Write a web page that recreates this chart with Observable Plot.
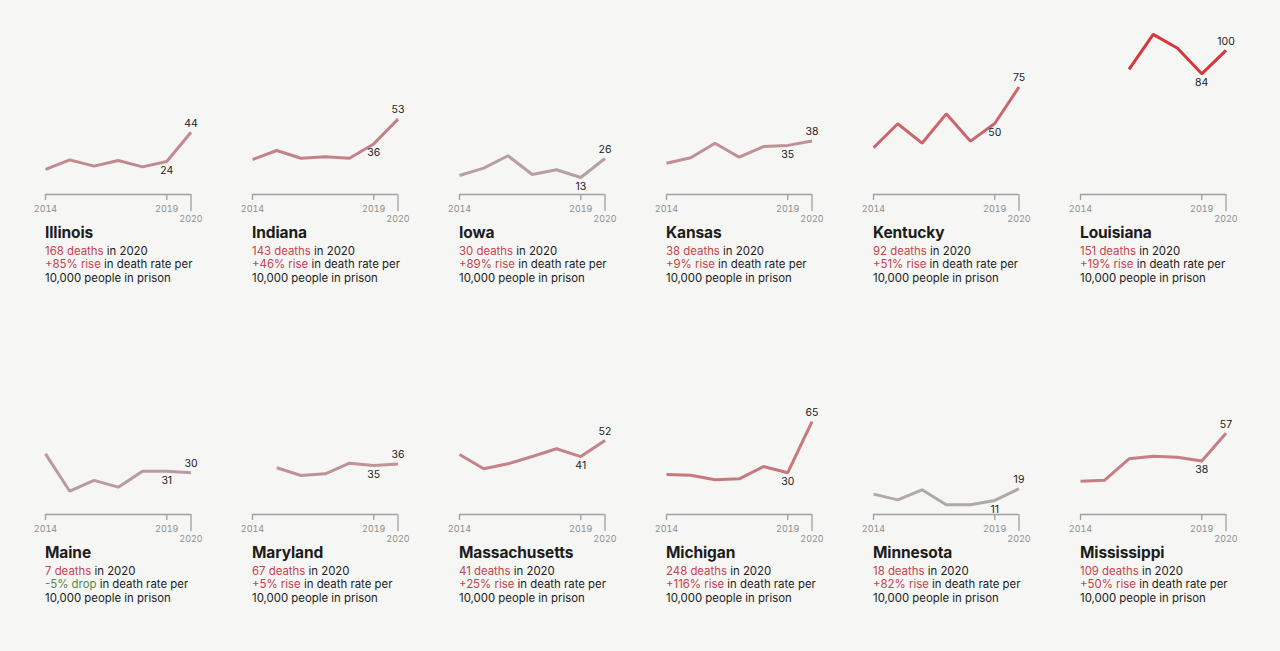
<!DOCTYPE html>
<html><head><meta charset="utf-8">
<script src="https://cdn.jsdelivr.net/npm/d3@7"></script>
<script src="https://cdn.jsdelivr.net/npm/@observablehq/plot@0.6"></script>
<style>
html,body{margin:0;padding:0;background:#f6f6f4;}
#wrap{position:relative;width:1280px;height:651px;overflow:hidden;font-family:Inter,"Noto Sans",sans-serif;}
.panel{position:absolute;width:207px;}
.panel svg{display:block;overflow:visible;}
.txt{position:absolute;left:15px;top:224px;width:192px;color:#1c1c1c;white-space:nowrap;}
.name{font-weight:700;font-size:15.5px;line-height:18px;letter-spacing:-0.1px;}
.ln{font-size:11.4px;line-height:13.7px;}
.ln.first{margin-top:2.5px;}
.red{color:#c4434c;}
.green{color:#4f8a52;}
</style>
</head><body>
<div id="wrap"></div>
<script>
const years = [2014, 2015, 2016, 2017, 2018, 2019, 2020];
const states = ["Illinois","Indiana","Iowa","Kansas","Kentucky","Louisiana","Maine","Maryland","Massachusetts","Michigan","Minnesota","Mississippi"];
const deaths2020 = [168, 143, 30, 38, 92, 151, 7, 67, 41, 248, 18, 109];
const changePct = [85, 46, 89, 9, 51, 19, -5, 5, 25, 116, 82, 50];

// Death rate per 10,000 people in prison, 2014–2020
const rateIllinois      = [18.5, 25.1, 20.8, 24.7, 20.3, 24, 44];
const rateIndiana       = [25.3, 31.5, 26.2, 27.2, 26.2, 36, 53];
const rateIowa          = [14.4, 19.4, 27.9, 15.1, 18.3, 13, 26];
const rateKansas        = [22.8, 26.5, 36.5, 26.9, 34.2, 35, 38];
const rateKentucky      = [33.4, 49.8, 36.5, 56.6, 37.9, 50, 75];
const rateLouisiana     = [null, null, 87, 111, 101.5, 84, 100];
const rateMaine         = [42.9, 17.3, 24.7, 20.1, 31, 31, 30];
const rateMaryland      = [null, 33.4, 28.1, 29.2, 36.5, 35, 36];
const rateMassachusetts = [42.5, 32.7, 36.1, 41.1, 46.4, 41, 52];
const rateMichigan      = [28.8, 28.3, 25.1, 25.8, 34.2, 30, 65];
const rateMinnesota     = [15.3, 11.4, 18.3, 8, 8, 11, 19];
const rateMississippi   = [24.2, 24.9, 39.5, 41.3, 40.6, 38, 57];

const series = [rateIllinois, rateIndiana, rateIowa, rateKansas, rateKentucky, rateLouisiana,
  rateMaine, rateMaryland, rateMassachusetts, rateMichigan, rateMinnesota, rateMississippi];

const wrap = document.getElementById("wrap");
const yMin = 1.37, yMax = 134.2;

states.forEach((name, i) => {
  const vals = series[i];
  const last = vals[vals.length - 1];
  const data = years.map((year, j) => ({year, rate: vals[j], last})).filter(d => d.rate != null);
  const col = i % 6, row = Math.floor(i / 6);

  const chart = Plot.plot({
    width: 207, height: 228,
    marginLeft: 15, marginRight: 46.5, marginTop: 0, marginBottom: 34,
    x: {domain: [2014, 2020], axis: null},
    y: {domain: [yMin, yMax], axis: null},
    color: {type: "linear", domain: [19, 44, 65, 100], range: ["#b0a9a9", "#c28a8f", "#c7787e", "#d7363a"]},
    style: {background: "transparent", fontFamily: "Inter, 'Noto Sans', sans-serif", overflow: "visible"},
    marks: [
      Plot.ruleY([yMin], {x1: 2014, x2: 2020, stroke: "#a0a0a0", strokeWidth: 1.3}),
      Plot.axisX({ticks: [2014, 2019], tickSize: 6, tickPadding: 5, tickFormat: d => String(d),
        stroke: "#a0a0a0", strokeWidth: 1.3, fill: "#8e8e8e", fontSize: 9, label: null}),
      Plot.axisX({ticks: [2020], tickSize: 17, tickPadding: 4, tickFormat: d => String(d),
        stroke: "#a0a0a0", strokeWidth: 1.3, fill: "#8e8e8e", fontSize: 9, label: null}),
      Plot.line(data, {x: "year", y: "rate", stroke: "last", strokeWidth: 3, strokeLinejoin: "miter", strokeLinecap: "butt"}),
      Plot.text(data.filter(d => d.year === 2020), {x: "year", y: "rate", text: d => String(Math.round(d.rate)),
        dy: -9, fill: "#1c1c1c", fontSize: 10.5}),
      Plot.text(data.filter(d => d.year === 2019), {x: "year", y: "rate", text: d => String(Math.round(d.rate)),
        dy: 9, fill: "#1c1c1c", fontSize: 10.5})
    ]
  });

  const panel = document.createElement("div");
  panel.className = "panel";
  panel.style.left = (30 + col * 207) + "px";
  panel.style.top = (row * 320) + "px";
  panel.appendChild(chart);

  const pct = changePct[i];
  const pctText = pct >= 0 ? `+${pct}% rise` : `-${Math.abs(pct)}% drop`;
  const pctClass = pct >= 0 ? "red" : "green";
  const txt = document.createElement("div");
  txt.className = "txt";
  txt.innerHTML = `<div class="name">${name}</div>
    <div class="ln first"><span class="red">${deaths2020[i]} deaths</span> in 2020</div>
    <div class="ln"><span class="${pctClass}">${pctText}</span> in death rate per</div>
    <div class="ln">10,000 people in prison</div>`;
  panel.appendChild(txt);
  wrap.appendChild(panel);
});
</script>
</body></html>
